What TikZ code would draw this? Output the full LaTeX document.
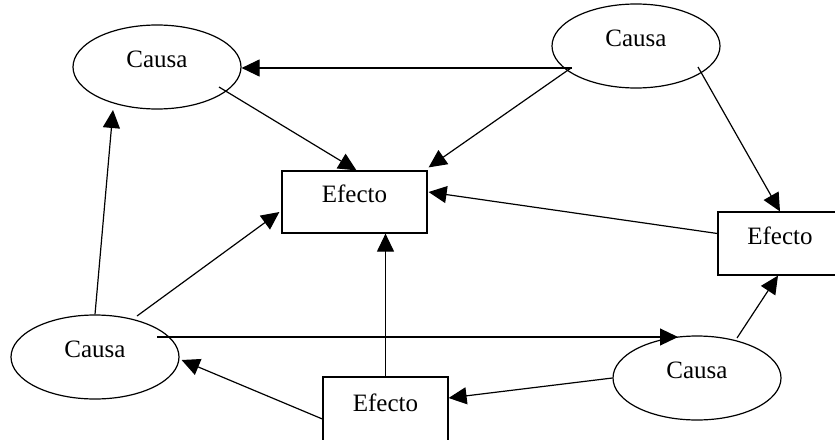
\documentclass[tikz,border=0pt]{standalone}
\usepackage{fontspec}
\setmainfont{Liberation Serif}
\usetikzlibrary{shapes.geometric,arrows.meta,calc}
\begin{document}
\begin{tikzpicture}[x=0.5pt,y=-0.5pt,line width=0.6pt,
  causa/.style={draw, ellipse, minimum width=84pt, minimum height=42pt, inner sep=0pt},
  efecto/.style={draw, rectangle, inner sep=0pt},
  lbl/.style={font=\fontsize{12.5pt}{15pt}\selectfont, yshift=4pt},
  link/.style={-{Triangle[length=9pt,width=8.5pt]}}]
\useasboundingbox (0,0) rectangle (835,439);

% causes
\node[causa, label={[lbl]center:Causa}] (c1) at (157,67) {};
\node[causa, label={[lbl]center:Causa}] (c2) at (636,46) {};
\node[causa, label={[lbl]center:Causa}] (c3) at (95,357) {};
\node[causa, label={[lbl]center:Causa}] (c4) at (697,378) {};

% effects
\node[efecto, minimum width=72.5pt, minimum height=31pt, label={[lbl]center:Efecto}] (e1) at (354.5,202) {};
\node[efecto, minimum width=62pt, minimum height=31.5pt, label={[lbl]center:Efecto}] (e2) at (780,243.5) {};
\node[efecto, minimum width=62.5pt, minimum height=34pt, label={[lbl]center:Efecto}] (e3) at (385.5,411) {};

% links
\draw[link] ($(c2)+(-64,22)$) -- ($(c1.east)+(0,1)$);
\draw[link] ($(c2)+(-65,22)$) -- ($(e1.north east)+(1,-3)$);
\draw[link] ($(c2)+(62,21)$) -- (e2.north);
\draw[link] ($(c1)+(62,20)$) -- ($(e1.north)+(2,0)$);
\draw[link] ($(e2.west)+(0,-10)$) -- ($(e1.east)+(1,-10)$);
\draw[link] (c3.north) -- ($(c1)+(-44,43)$);
\draw[link] ($(c3)+(42,-41)$) -- ($(e1.west)+(-2,10)$);
\draw[link] ($(c3)+(62,-20)$) -- ($(c4)+(-19,-41)$);
\draw[link] ($(c4)+(40,-40)$) -- ($(e2.south)+(-2,0)$);
\draw[link] (e3.north) -- (e3.north |- e1.south);
\draw[link] (c4.west) -- ($(e3.east)+(0,-13)$);
\draw[link] ($(e3.west)+(0,8)$) -- ($(c3.east)+(2,3)$);
\end{tikzpicture}
\end{document}
